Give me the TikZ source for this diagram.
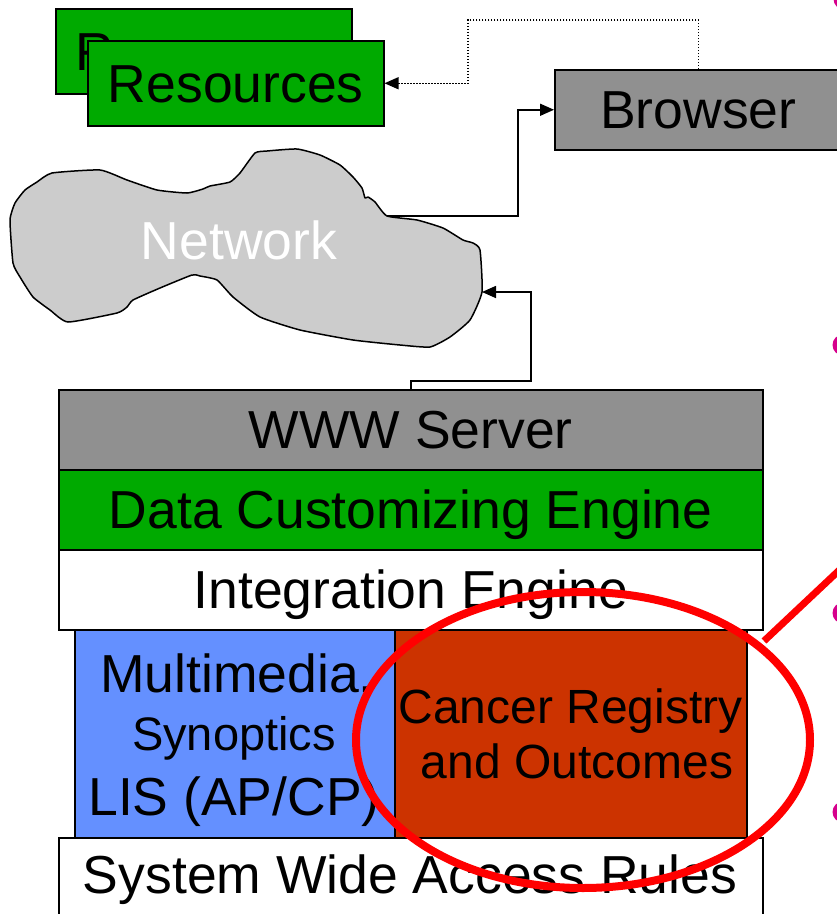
\documentclass[tikz,border=0pt]{standalone}
\usepackage{fontspec}
\setmainfont{Liberation Sans}
\usetikzlibrary{arrows.meta}

\definecolor{boxgreen}{RGB}{0,170,0}
\definecolor{boxgray}{RGB}{144,144,144}
\definecolor{cloudgray}{RGB}{204,204,204}
\definecolor{boxblue}{RGB}{100,144,255}
\definecolor{boxrust}{RGB}{204,51,0}
\definecolor{markred}{RGB}{255,0,0}
\definecolor{bulletmag}{RGB}{214,0,140}

\begin{document}
\begin{tikzpicture}[x=1pt,y=-1pt,
  box/.style={draw=black, line width=1.5pt, inner sep=0pt, anchor=north west},
  big/.style={font=\fontsize{53.5}{60}\selectfont},
  lbl/.style={big, text height=38.3pt, text depth=0pt},
  mid/.style={font=\fontsize{48}{54}\selectfont, anchor=base, inner sep=0pt},
  link/.style={line width=1.6pt, -{Triangle[length=14pt,width=12pt]}},
  dotlink/.style={line width=1.3pt, dash pattern=on 1.4pt off 1.6pt,
                  -{Triangle[length=14pt,width=12pt]}},
  hilite/.style={draw=markred, line width=8pt},
  bulletdot/.style={fill=bulletmag},
]
\useasboundingbox (0,0) rectangle (837,914);

% resource boxes
\node[box, lbl, fill=boxgreen, minimum width=296pt, minimum height=85pt] (resback) at (55,8) {Resources};
\node[box, lbl, fill=boxgreen, minimum width=296pt, minimum height=85pt] (resfront) at (87,40) {Resources};

% browser
\node[box, lbl, fill=boxgray, minimum width=287pt, minimum height=80pt] (browser) at (554,69) {Browser};

% network cloud
\draw[fill=cloudgray, line width=1.5pt, line join=round]
  plot[smooth cycle, tension=0.3] coordinates {
  (10,220) (15,203) (25,190) (37,182) (52,173) (100,170) (127,180)
  (157,190) (187,193) (203,189) (210,186) (230,182) (240,173)
  (255,153) (267,151) (297,149) (320,155) (340,165) (353,177)
  (362,188) (365,198) (368,197) (375,202) (387,216) (417,220)
  (443,228) (463,240) (473,243) (480,250) (482,292) (470,320)
  (450,337) (430,347) (400,345) (353,340) (300,330) (260,317)
  (233,297) (217,280) (200,276) (192,275) (160,288) (133,300)
  (127,307) (117,313) (68,322) (50,310) (33,297) (20,277)
  (13,263)};
\node[lbl, white] (network) at (239,240.5) {Network};
\coordinate (netout) at (387,216);
\coordinate (netin) at (482,292);

% system stack
\node[box, lbl, fill=boxgray, minimum width=704pt, minimum height=80pt] (www) at (58,389) {WWW Server};
\node[box, lbl, fill=boxgreen, minimum width=704pt, minimum height=80pt] (dce) at (58,469) {Data Customizing Engine};
\node[box, lbl, fill=white, minimum width=704pt, minimum height=80pt] (ie) at (58,549) {Integration Engine};
\node[box, fill=boxblue, minimum width=320pt, minimum height=208pt] (mm) at (74,629) {};
\node[box, fill=boxrust, minimum width=352pt, minimum height=208pt] (cr) at (394,629) {};
\node[box, fill=white, minimum width=704pt, minimum height=95pt] (swar) at (58,837) {};

\node[big, anchor=base, inner sep=0pt] (mm1) at (237,692) {Multimedia.};
\node[font=\fontsize{47}{52}\selectfont, anchor=base, inner sep=0pt] (mm2) at (234,750) {Synoptics};
\node[big, anchor=base, inner sep=0pt] (mm3) at (234,815) {LIS (AP/CP)};
\node[mid] (cr1) at (570.5,723) {Cancer Registry};
\node[mid] (cr2) at (577,778) {and Outcomes};
\node[lbl, inner sep=0pt] (swartext) at (410,874) {System Wide Access Rules};

% connectors
\draw[link] (netout) -- ++(131,0) |- (browser.west);
\draw[link] (www.north) -- ++(0,-8) -- ++(120,0) |- (netin);
\draw[dotlink] (browser.north) |- (468,20) |- (resfront.east);

% highlight
\draw[hilite] (583,740) ellipse [x radius=227pt, y radius=148pt];
\coordinate (markstart) at (764,641);
\draw[draw=markred, line width=7pt] (markstart) -- ++(85,-80);

% bullets at the right edge
\fill[bulletdot] (844,-1) circle (10.5pt);
\fill[bulletdot] (843,345) circle (10.5pt);
\fill[bulletdot] (843,613) circle (10.5pt);
\fill[bulletdot] (843,812) circle (10.5pt);
\end{tikzpicture}
\end{document}
